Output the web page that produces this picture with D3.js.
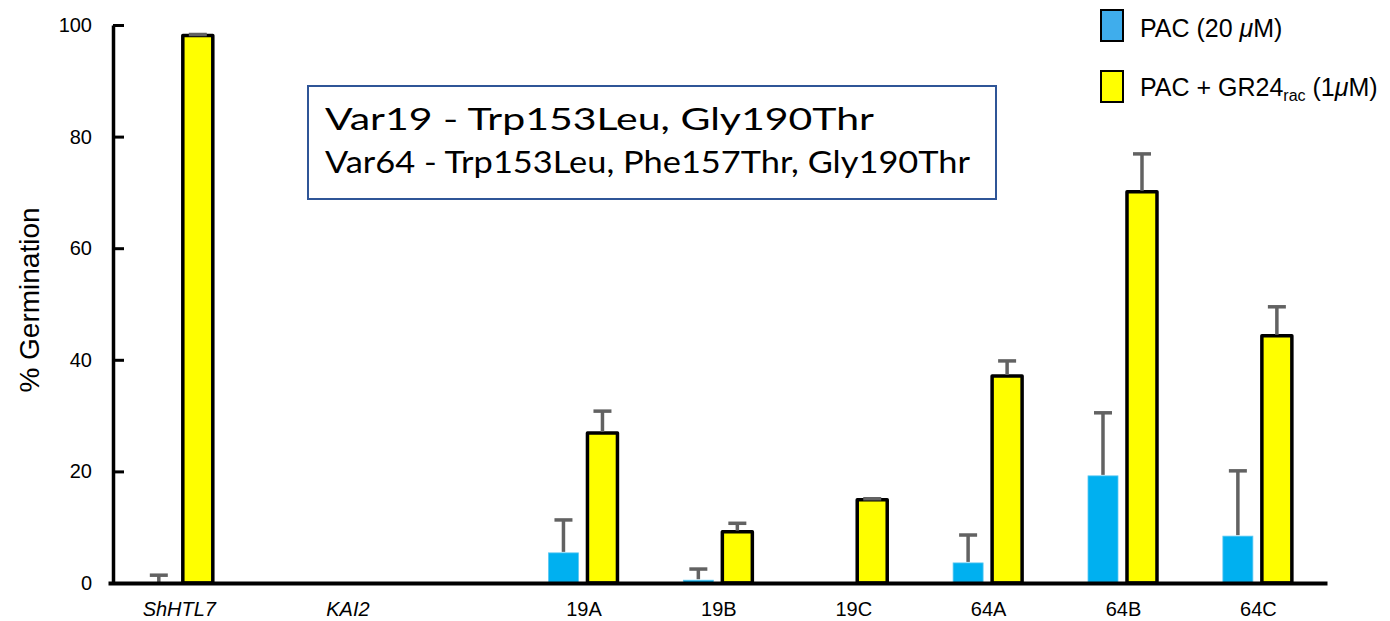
<!DOCTYPE html>
<meta charset="utf-8">
<script src="https://d3js.org/d3.v7.min.js"></script>
<style>
  body { margin: 0; background: #fff; }
  svg text { font-family: "Liberation Sans", Arial, Helvetica, sans-serif; }
</style>
<div id="chart"></div>
<script>

// data (% germination)
var categories = ["ShHTL7", "KAI2", "19A", "19B", "19C", "64A", "64B", "64C"];
var italicCats = ["ShHTL7", "KAI2"];
// position of each group on the x axis, in quarter steps (controls sit apart)
var slot = [0, 5, 12, 16, 20, 24, 28, 32];
var pac      = [0,   0, 5.4, 0.5, 0,    3.6, 19.2, 8.4];
var pacErr   = [1.4, 0, 5.9, 2.0, 0,    5.0, 11.3, 11.7];
var gr24     = [98.1, 0, 26.9, 9.2, 14.9, 37.1, 70.1, 44.3];
var gr24Err  = [0.2, 0, 3.9, 1.5, 0.2,  2.7, 6.8, 5.2];
var yTicks = [0, 20, 40, 60, 80, 100];
var boxLines = ["Var19 - Trp153Leu, Gly190Thr", "Var64 - Trp153Leu, Phe157Thr, Gly190Thr"];

var W = 1390, H = 621;
var svg = d3.select("#chart").append("svg")
  .attr("width", W).attr("height", H);

var x = d3.scaleLinear().domain([-2.1, 34.05]).range([108, 1327]);
var y = d3.scaleLinear().domain([0, 100]).range([583, 25]);

var blueFill = "#00b0f0", yellowFill = "#ffff00", errCol = "#626262";
var barW = 30;

var rows = categories.map(function(c, i) {
  return {cat: c, pos: slot[i], pac: pac[i], pacErr: pacErr[i], gr: gr24[i], grErr: gr24Err[i]};
});

// PAC bars
svg.append("g").selectAll("rect")
  .data(rows.filter(function(d){ return d.pac > 0; }))
  .enter().append("rect")
    .attr("x", function(d){ return x(d.pos) - 20 - barW/2; })
    .attr("y", function(d){ return y(d.pac); })
    .attr("width", barW)
    .attr("height", function(d){ return y(0) - y(d.pac); })
    .attr("fill", blueFill)
    .attr("stroke", "#5cc8f2")
    .attr("stroke-width", 0.8);

// PAC + GR24 bars
svg.append("g").selectAll("rect")
  .data(rows.filter(function(d){ return d.gr > 0; }))
  .enter().append("rect")
    .attr("x", function(d){ return x(d.pos) + 19 - barW/2; })
    .attr("y", function(d){ return y(d.gr); })
    .attr("width", barW)
    .attr("height", function(d){ return y(0) - y(d.gr); })
    .attr("fill", yellowFill)
    .attr("stroke", "#000")
    .attr("stroke-width", 3.5)
    .attr("stroke-linejoin", "round");

// error bars (upper only)
var errs = [];
rows.forEach(function(d) {
  if (d.pacErr > 0) errs.push({cx: x(d.pos) - 20, v: d.pac, e: d.pacErr});
  if (d.grErr > 0) errs.push({cx: x(d.pos) + 19, v: d.gr, e: d.grErr});
});
var eg = svg.append("g").attr("stroke", errCol).attr("stroke-width", 3.5);
eg.selectAll("line.stem").data(errs).enter().append("line")
  .attr("class", "stem")
  .attr("x1", function(d){ return d.cx; }).attr("x2", function(d){ return d.cx; })
  .attr("y1", function(d){ return y(d.v) - 1; })
  .attr("y2", function(d){ return y(d.v + d.e); });
eg.selectAll("line.cap").data(errs).enter().append("line")
  .attr("class", "cap")
  .attr("x1", function(d){ return d.cx - 9; }).attr("x2", function(d){ return d.cx + 9; })
  .attr("y1", function(d){ return y(d.v + d.e); })
  .attr("y2", function(d){ return y(d.v + d.e); });

// y axis, ticks pointing inward
var yAxis = svg.append("g")
  .attr("transform", "translate(113,0)")
  .call(d3.axisLeft(y).tickValues(yTicks).tickSizeInner(-11).tickSizeOuter(0).tickPadding(21));
yAxis.select(".domain").attr("stroke-width", 3.5);
yAxis.selectAll(".tick line").attr("stroke-width", 3);
yAxis.selectAll(".tick text").style("font-size", "20px").attr("fill", "#000");

// x axis
var xAxis = svg.append("g")
  .attr("transform", "translate(0,583)")
  .call(d3.axisBottom(x).tickValues(slot)
    .tickFormat(function(d, i){ return categories[i]; })
    .tickSize(0).tickPadding(19));
xAxis.select(".domain").attr("stroke-width", 4);
xAxis.selectAll(".tick text")
  .style("font-size", "20px")
  .attr("fill", "#000")
  .style("font-style", function(d, i){ return italicCats.indexOf(categories[i]) >= 0 ? "italic" : "normal"; });

// y label
svg.append("text")
  .attr("transform", "translate(39,300) rotate(-90)")
  .attr("text-anchor", "middle")
  .style("font-size", "28px")
  .text("% Germination");

// legend
var leg = svg.append("g");
leg.append("rect").attr("x", 1101).attr("y", 10).attr("width", 22).attr("height", 31)
  .attr("fill", "#3fadec").attr("stroke", "#000").attr("stroke-width", 2);
leg.append("rect").attr("x", 1101).attr("y", 71).attr("width", 22).attr("height", 31)
  .attr("fill", yellowFill).attr("stroke", "#000").attr("stroke-width", 2);
var t1 = leg.append("text").attr("x", 1140).attr("y", 37).style("font-size", "25px");
t1.append("tspan").text("PAC (20 ");
t1.append("tspan").style("font-style", "italic").text("\u03bc");
t1.append("tspan").text("M)");
var t2 = leg.append("text").attr("x", 1140).attr("y", 96).style("font-size", "25px");
t2.append("tspan").text("PAC + GR24");
t2.append("tspan").attr("dy", 5).style("font-size", "16px").text("rac");
t2.append("tspan").attr("dy", -5).text(" (1");
t2.append("tspan").style("font-style", "italic").text("\u03bc");
t2.append("tspan").text("M)");

// annotation box
svg.append("rect").attr("x", 308).attr("y", 86).attr("width", 688).attr("height", 113)
  .attr("fill", "none").attr("stroke", "#2f5597").attr("stroke-width", 2);
svg.selectAll("text.box").data(boxLines).enter().append("text")
  .attr("class", "box")
  .attr("x", 325)
  .attr("y", function(d, i){ return 130 + i * 43; })
  .style("font-family", "Lato, 'Open Sans', sans-serif")
  .style("font-size", "31px")
  .attr("textLength", function(d, i){ return i === 0 ? 549 : 645; })
  .attr("lengthAdjust", "spacingAndGlyphs")
  .text(function(d){ return d; });

</script>
